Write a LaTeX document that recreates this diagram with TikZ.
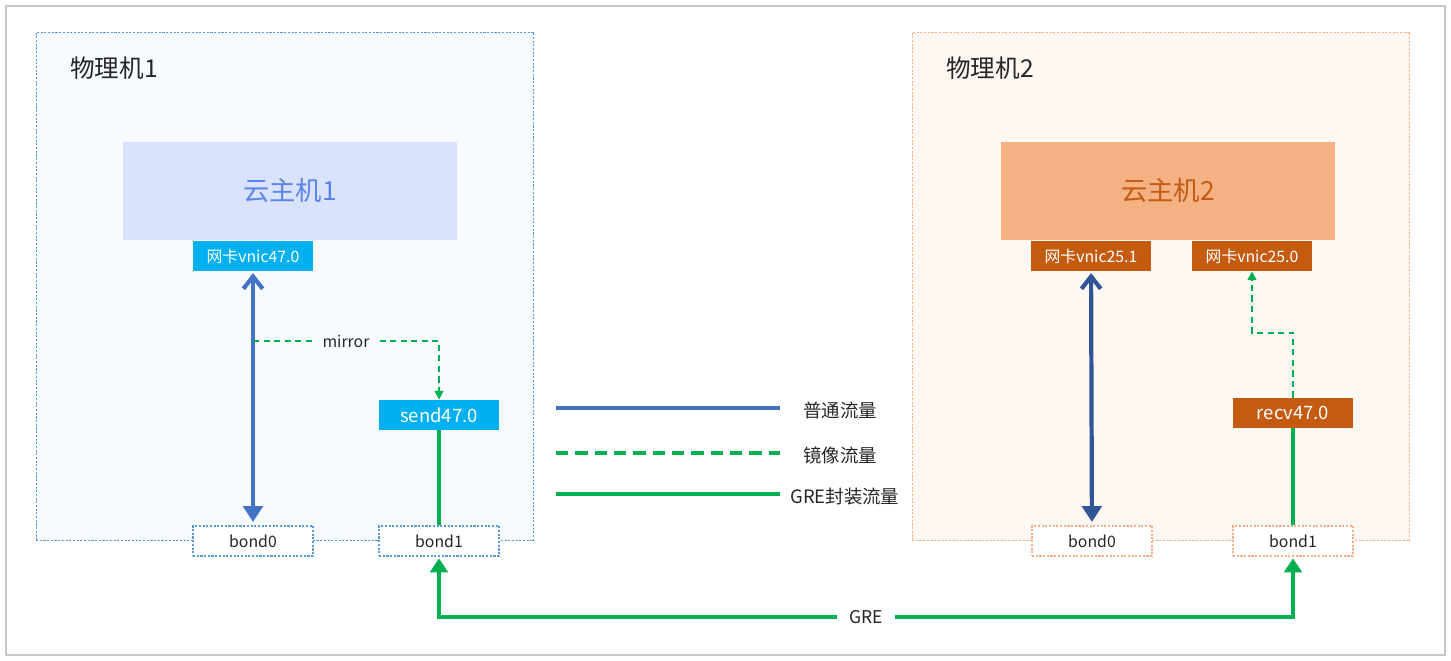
\documentclass[tikz,border=0pt]{standalone}
\usepackage{fontspec}
\setmainfont{Noto Sans CJK SC}
\usepackage{tikz}
\usetikzlibrary{arrows.meta}
\definecolor{frame}{HTML}{C8C8C8}
\definecolor{txt}{HTML}{262626}
\definecolor{pmAfill}{HTML}{F7FBFF}
\definecolor{pmAline}{HTML}{5B9BD5}
\definecolor{pmBfill}{HTML}{FFF7F2}
\definecolor{pmBline}{HTML}{F4B183}
\definecolor{vmAfill}{HTML}{DAE3FD}
\definecolor{vmAtext}{HTML}{5B85E8}
\definecolor{vmBfill}{HTML}{F4B183}
\definecolor{vmBtext}{HTML}{C55A11}
\definecolor{cyan}{HTML}{00B0F0}
\definecolor{rust}{HTML}{C55A11}
\definecolor{blueA}{HTML}{4472C4}
\definecolor{blueB}{HTML}{2F5597}
\definecolor{green}{HTML}{00B050}
\tikzset{
  pmbox/.style={draw=#1, line width=0.6pt, dash pattern=on 1.2pt off 0.9pt,
    minimum width=9.96cm, minimum height=10.18cm, inner sep=0pt},
  vmbox/.style={fill=#1, minimum width=6.68cm, minimum height=1.96cm, inner sep=0pt,
    font=\fontsize{15}{18}\selectfont},
  nic/.style={fill=#1, text=white, minimum width=2.4cm, minimum height=0.6cm, inner sep=0pt,
    font=\fontsize{9}{11}\selectfont},
  port/.style={fill=#1, text=white, minimum width=2.4cm, minimum height=0.6cm, inner sep=0pt,
    font=\fontsize{10.5}{12}\selectfont},
  bond/.style={draw=#1, fill=white, line width=0.6pt, dash pattern=on 1.2pt off 0.9pt,
    text=txt, minimum width=2.4cm, minimum height=0.6cm, inner sep=0pt,
    font=\fontsize{9}{11}\selectfont},
  title/.style={text=txt, anchor=west, inner sep=0pt, font=\fontsize{14}{16}\selectfont},
  lab/.style={text=txt, font=\fontsize{9}{11}\selectfont},
  leg/.style={text=txt, anchor=west, inner sep=0pt, font=\fontsize{10.5}{12}\selectfont},
  normal/.style={draw=#1, line width=2.4pt},
  mirr/.style={draw=green, line width=1pt, dash pattern=on 3.5pt off 2.5pt},
  gre/.style={draw=green, line width=1.8pt}
}
\begin{document}
\begin{tikzpicture}[x=0.02cm, y=-0.02cm]
  \useasboundingbox (0,0) rectangle (1451,661);
  \draw[frame, line width=1.6pt] (6,6) rectangle (1445,655);

  % physical hosts
  \node[pmbox=pmAline, fill=pmAfill] (pmA) at (285,286.5) {};
  \node[pmbox=pmBline, fill=pmBfill] (pmB) at (1161,286.5) {};
  \node[title] (pmAt) at (70,68) {物理机1};
  \node[title] (pmBt) at (946,68) {物理机2};

  % cloud hosts
  \node[vmbox=vmAfill, text=vmAtext] (vmA) at (290,191) {云主机1};
  \node[vmbox=vmBfill, text=vmBtext] (vmB) at (1168,191) {云主机2};

  % nics
  \node[nic=cyan] (nic47) at (253,256) {网卡vnic47.0};
  \node[nic=rust] (nic251) at (1091,256) {网卡vnic25.1};
  \node[nic=rust] (nic250) at (1252,256) {网卡vnic25.0};

  % mirror ports
  \node[port=cyan] (send) at (439,415) {send47.0};
  \node[port=rust] (recv) at (1293,413) {recv47.0};

  % bonds
  \node[bond=pmAline] (bondA0) at (253,541) {bond0};
  \node[bond=pmAline] (bondA1) at (439,541) {bond1};
  \node[bond=pmBline] (bondB0) at (1092,541) {bond0};
  \node[bond=pmBline] (bondB1) at (1293,541) {bond1};

  % normal traffic
  \draw[normal=blueA, {Straight Barb[length=7pt,width=11pt,line width=2.4pt]}-{Triangle[length=9pt,width=11pt]},
    shorten <=1pt, shorten >=2pt] (nic47) -- (bondA0);
  \draw[normal=blueB, {Straight Barb[length=7pt,width=11pt,line width=2.4pt]}-{Triangle[length=9pt,width=11pt]},
    shorten <=1pt, shorten >=2pt] (nic251) -- (bondB0);

  % mirrored traffic
  \coordinate (mirA) at (253,341);
  \draw[mirr, -{Triangle[length=5pt,width=5pt]}] (mirA) -| node[pos=0.25, fill=pmAfill, lab, inner xsep=6pt] {mirror} (send);
  \draw[mirr, -{Triangle[length=5pt,width=5pt]}] (recv.north) -- ++(0,-65) -| (nic250);

  % gre traffic
  \draw[gre] (send) -- (bondA1);
  \draw[gre] (recv) -- (bondB1);
  \draw[gre, {Triangle[length=8pt,width=10pt]}-{Triangle[length=8pt,width=10pt]}, shorten <=1pt, shorten >=1pt]
    (bondA1) -- ++(0,76) -| node[pos=0.25, fill=white, lab, font=\fontsize{10}{12}\selectfont, inner xsep=7pt] {GRE} (bondB1);

  % legend
  \node[leg] (lgN) at (803,410) {普通流量};
  \node[leg] (lgM) at (803,455) {镜像流量};
  \node[leg] (lgG) at (790,497) {GRE封装流量};
  \coordinate (lgNs) at (556,408);
  \coordinate (lgNe) at (780,408);
  \coordinate (lgMs) at (556,453);
  \coordinate (lgMe) at (780,453);
  \coordinate (lgGs) at (556,494);
  \coordinate (lgGe) at (780,494);
  \draw[blueA, line width=2.2pt] (lgNs) -- (lgNe);
  \draw[green, line width=2.2pt, dash pattern=on 7pt off 4pt] (lgMs) -- (lgMe);
  \draw[gre, line width=2.2pt] (lgGs) -- (lgGe);
\end{tikzpicture}
\end{document}
